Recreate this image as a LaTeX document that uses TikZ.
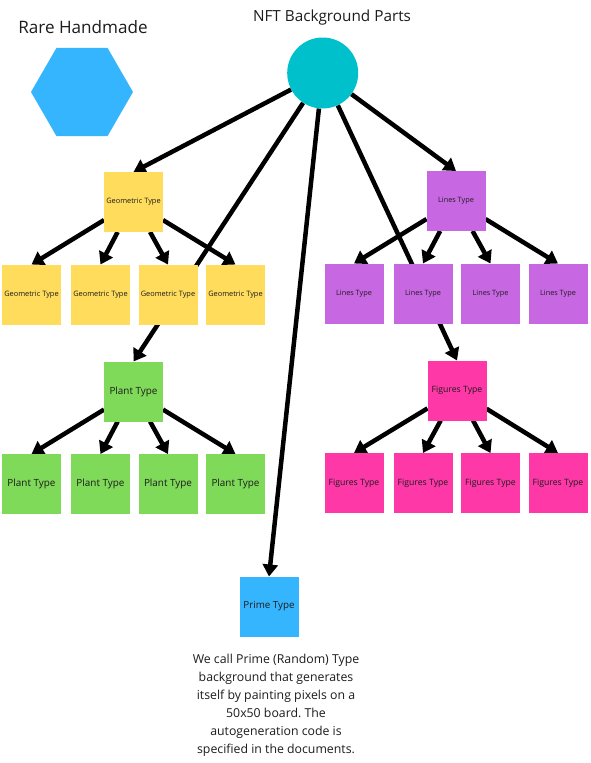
\documentclass[tikz,border=0pt]{standalone}
\usepackage{fontspec}
\setmainfont{Open Sans}
\usetikzlibrary{arrows.meta,shapes.geometric}
\pgfdeclarelayer{background}
\pgfsetlayers{background,main}
\definecolor{cteal}{HTML}{00C1CB}
\definecolor{cblue}{HTML}{36B5FF}
\definecolor{cyellow}{HTML}{FFDC5C}
\definecolor{cviolet}{HTML}{C867E2}
\definecolor{cgreen}{HTML}{80DA5A}
\definecolor{cpink}{HTML}{FF38A8}
\definecolor{ctext}{HTML}{1C1C1C}
\tikzset{
  box/.style={rectangle, minimum width=59pt, minimum height=60pt, inner sep=0pt, outer sep=0pt, text=ctext, align=center},
  geobox/.style={box, fill=cyellow, font=\fontsize{7.4}{9}\selectfont},
  linbox/.style={box, fill=cviolet, font=\fontsize{7.3}{9}\selectfont},
  plabox/.style={box, fill=cgreen, font=\fontsize{9.9}{12}\selectfont},
  figbox/.style={box, fill=cpink, font=\fontsize{8.7}{11}\selectfont},
  primebox/.style={box, fill=cblue, font=\fontsize{9.8}{12}\selectfont},
  conn/.style={line width=4.5pt, draw=black},
  arr/.style={conn, -{Triangle[length=12pt,width=15pt]}},
  title/.style={text=ctext, inner sep=0pt},
}
\begin{document}
\frenchspacing
\begin{tikzpicture}[x=1pt,y=-1pt]
\useasboundingbox (0,0) rectangle (591,763);

% titles
\node[title, font=\fontsize{17.1}{20}\selectfont] (rare) at (83,27) {Rare Handmade};
\node[title, font=\fontsize{15.3}{18}\selectfont] (nft) at (332,18) {NFT Background Parts};

% hexagon
\node[regular polygon, regular polygon sides=6, minimum size=102pt, inner sep=0pt, fill=cblue] (hex) at (82,92) {};

% root circle
\node[circle, minimum size=71pt, inner sep=0pt, fill=cteal] (c) at (322.7,73) {};

% nodes
\node[geobox] (gm) at (133.5,202) {Geometric Type};
\node[linbox] (lm) at (456,201) {Lines Type};

\node[geobox] (g1) at (31.5,294.5) {Geometric Type};
\node[geobox] (g2) at (100.5,294.5) {Geometric Type};
\node[geobox] (g3) at (168,294.5) {Geometric Type};
\node[geobox] (g4) at (235.5,294.5) {Geometric Type};

\node[linbox] (l1) at (354,293.5) {Lines Type};
\node[linbox] (l2) at (423,293.5) {Lines Type};
\node[linbox] (l3) at (490.5,293.5) {Lines Type};
\node[linbox] (l4) at (558,293.5) {Lines Type};

\node[plabox] (pm) at (133.5,391.5) {Plant Type};
\node[figbox] (fm) at (457,390.5) {Figures Type};

\node[plabox] (p1) at (31.5,484) {Plant Type};
\node[plabox] (p2) at (100.5,484) {Plant Type};
\node[plabox] (p3) at (168,484) {Plant Type};
\node[plabox] (p4) at (235.5,484) {Plant Type};

\node[figbox] (f1) at (354,483) {Figures Type};
\node[figbox] (f2) at (423,483) {Figures Type};
\node[figbox] (f3) at (490.5,483) {Figures Type};
\node[figbox] (f4) at (558,483) {Figures Type};

\node[primebox] (prime) at (269,606.5) {Prime Type};

\node[text=ctext, align=center, inner sep=0pt, font=\fontsize{12.3}{18}\selectfont] (desc) at (276,705)
  {We call Prime (Random) Type\\background that generates\\itself by painting pixels on a\\50x50 board. The\\autogeneration code is\\specified in the documents.};

% connectors (behind the boxes)
\begin{pgfonlayer}{background}
\fill[white] (0,0) rectangle (591,763);
\draw[arr] (c) -- (pm.north);
\draw[arr] (c) -- (fm.north);
\draw[arr] (c) -- (gm.north);
\draw[arr] (c) -- (lm.north);
\draw[arr] (c) -- (prime.north);
\foreach \k in {1,2,3,4} {
  \draw[arr] (gm) -- (g\k.north);
  \draw[arr] (lm) -- (l\k.north);
  \draw[arr] (pm) -- (p\k.north);
  \draw[arr] (fm) -- (f\k.north);
}
\end{pgfonlayer}
\end{tikzpicture}
\end{document}
